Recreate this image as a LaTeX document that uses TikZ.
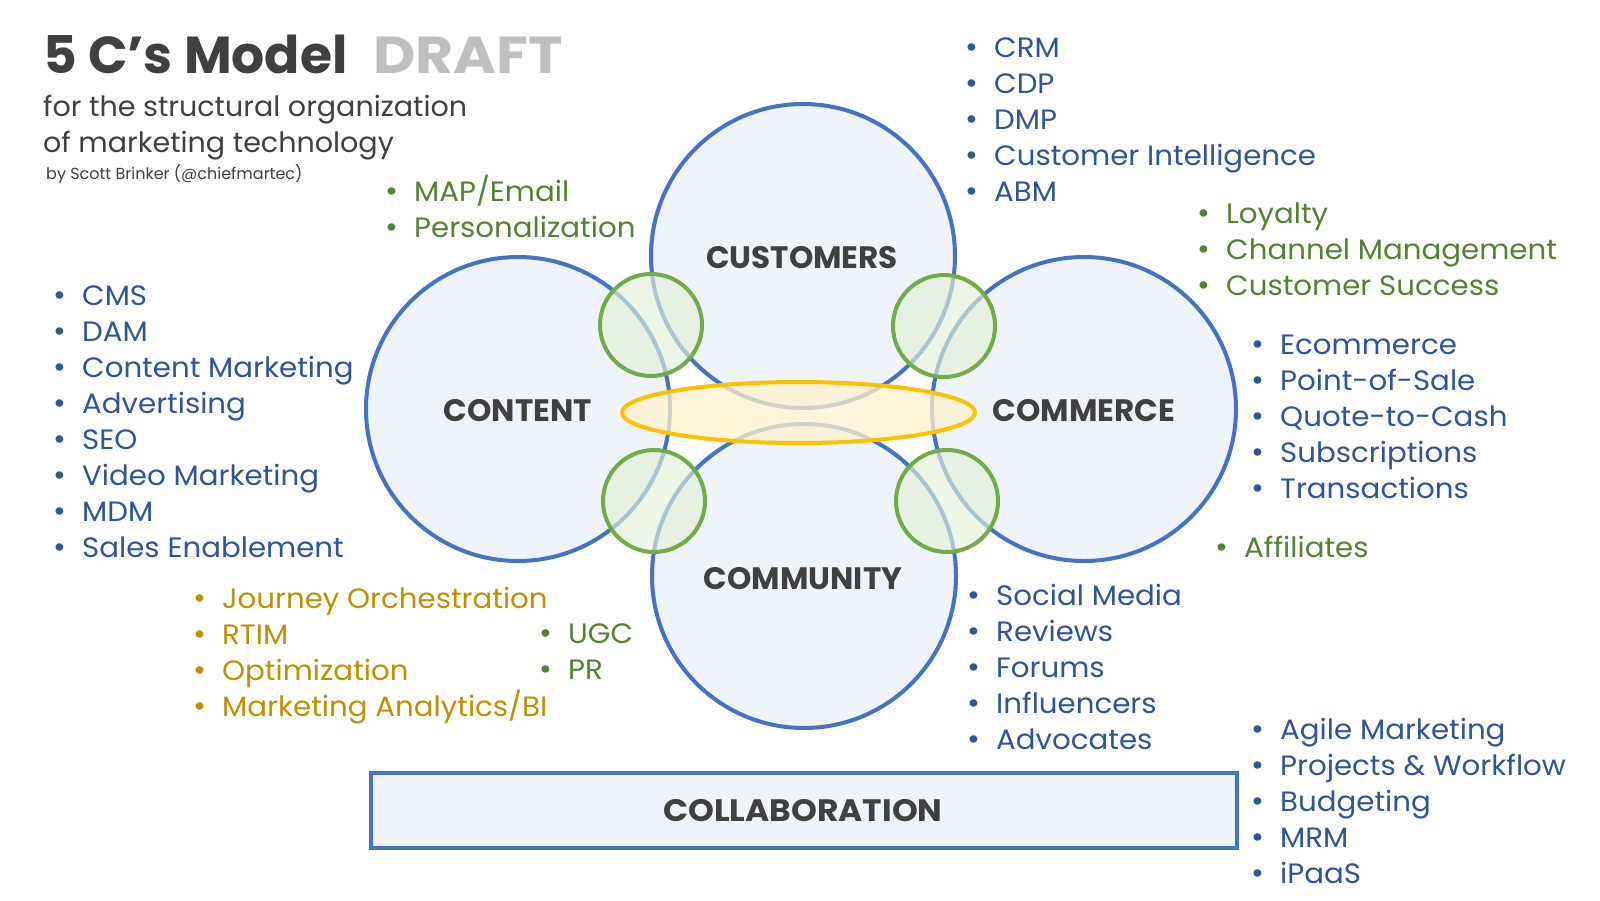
\documentclass[tikz,border=0pt]{standalone}
\usepackage{fontspec}
\setmainfont{Poppins}
\newfontfamily\itemfont[FakeStretch=1.045]{Poppins}
\newfontfamily\subfont[FakeStretch=1.02]{Poppins}
\usetikzlibrary{shapes.geometric}
\definecolor{blueT}{HTML}{2F5597}
\definecolor{greenT}{HTML}{548235}
\definecolor{goldT}{HTML}{BF9000}
\definecolor{ringB}{HTML}{4472C4}
\definecolor{ringF}{HTML}{EFF3FA}
\definecolor{ringG}{HTML}{70AD47}
\definecolor{fillG}{HTML}{E2F0D9}
\definecolor{ringY}{HTML}{FFC000}
\definecolor{fillY}{HTML}{FFF2CC}
\definecolor{darkT}{HTML}{404040}
\definecolor{draftT}{HTML}{BFBFBF}
\newcommand\bl[1]{\makebox[0pt]{\fontsize{30}{30}\selectfont\textbullet}\hspace{22pt}#1}
\tikzset{
  itm/.style={anchor=base west, inner sep=0pt, font=\itemfont\fontsize{28}{30}\selectfont},
  bigc/.style={draw=ringB, line width=4pt, fill=ringF},
  greenc/.style={draw=ringG, line width=4pt, fill=fillG, fill opacity=0.65},
  yell/.style={draw=ringY, line width=4pt, fill=fillY, fill opacity=0.75},
  lbl/.style={anchor=center, inner sep=0pt, text=darkT, font=\bfseries\fontsize{31}{32}\selectfont},
  ttl/.style={anchor=base west, inner sep=0pt, font=\bfseries\fontsize{52}{54}\selectfont},
  sub/.style={anchor=base west, inner sep=0pt, text=darkT},
}
\begin{document}
\begin{tikzpicture}[x=1pt,y=-1pt]
\fill[white] (0,0) rectangle (1600,900);
\useasboundingbox (0,0) rectangle (1600,900);
% big circles
\path[bigc] (803,256) circle[radius=152pt];
\path[bigc] (518,409) circle[radius=152pt];
\path[bigc] (1084,409) circle[radius=152pt];
\path[bigc] (804,576) circle[radius=152pt];
% green overlaps
\path[greenc] (651,325) circle[radius=51pt];
\path[greenc] (944,326) circle[radius=51pt];
\path[greenc] (654,501) circle[radius=51pt];
\path[greenc] (947,501) circle[radius=51pt];
% yellow ellipse
\path[yell] (798.5,412.5) circle[x radius=176.5pt, y radius=30.5pt];
% collaboration box
\node[draw=ringB, line width=4pt, fill=ringF, minimum width=866pt, minimum height=75pt, inner sep=0pt] (collab) at (804,810.5) {};
% labels
\node[lbl] (customers) at (802,258) {CUSTOMERS};
\node[lbl] (content) at (518,411) {CONTENT};
\node[lbl] (commerce) at (1084,411) {COMMERCE};
\node[lbl] (community) at (803,579) {COMMUNITY};
\node[lbl] (collabl) at (803,811) {\scalebox{1.06}[1]{COLLABORATION}};
% title
\node[ttl, text=darkT] (title) at (43,73) {5 C’s Model};
\node[ttl, text=draftT] (draft) at (373,73) {\scalebox{1.12}[1]{DRAFT}};
\node[sub, font=\subfont\fontsize{28}{30}\selectfont] (sub1) at (43,116) {for the structural organization};
\node[sub, font=\subfont\fontsize{28}{30}\selectfont] (sub2) at (43,152) {of marketing technology};
\node[sub, font=\fontsize{16}{18}\selectfont] (by) at (46,179) {by Scott Brinker (@chiefmartec)};
% lists
\foreach \t [count=\i from 0] in {CRM,CDP,DMP,Customer Intelligence,ABM}
  \node[itm, text=blueT] (cu\i) at (972,57.5+36*\i) {\bl{\t}};
\foreach \t [count=\i from 0] in {MAP/Email,Personalization}
  \node[itm, text=greenT] (ma\i) at (392,201.5+36*\i) {\bl{\t}};
\foreach \t [count=\i from 0] in {Loyalty,Channel Management,Customer Success}
  \node[itm, text=greenT] (lo\i) at (1204,223.5+36*\i) {\bl{\t}};
\foreach \t [count=\i from 0] in {CMS,DAM,Content Marketing,Advertising,SEO,Video Marketing,MDM,Sales Enablement}
  \node[itm, text=blueT] (co\i) at (60,305.5+36*\i) {\bl{\t}};
\foreach \t [count=\i from 0] in {Ecommerce,Point-of-Sale,Quote-to-Cash,Subscriptions,Transactions}
  \node[itm, text=blueT] (ec\i) at (1258,354.5+36*\i) {\bl{\t}};
\node[itm, text=greenT] (af0) at (1222,557.5) {\bl{Affiliates}};
\foreach \t [count=\i from 0] in {Journey Orchestration,RTIM,Optimization,Marketing Analytics/BI}
  \node[itm, text=goldT] (jo\i) at (200,608.5+36*\i) {\bl{\t}};
\foreach \t [count=\i from 0] in {UGC,PR}
  \node[itm, text=greenT] (ug\i) at (546,643.5+36*\i) {\bl{\t}};
\foreach \t [count=\i from 0] in {Social Media,Reviews,Forums,Influencers,Advocates}
  \node[itm, text=blueT] (so\i) at (974,605.5+36*\i) {\bl{\t}};
\foreach \t [count=\i from 0] in {Agile Marketing,Projects \& Workflow,Budgeting,MRM,iPaaS}
  \node[itm, text=blueT] (ag\i) at (1258,739.5+36*\i) {\bl{\t}};
\end{tikzpicture}
\end{document}
